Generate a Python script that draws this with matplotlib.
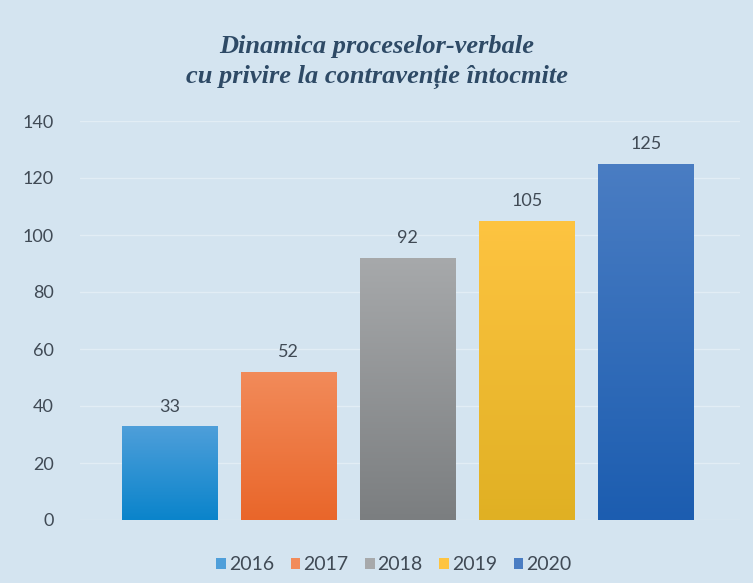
import numpy as np
import matplotlib.pyplot as plt
from matplotlib.colors import LinearSegmentedColormap
from matplotlib.patches import Patch

years = ['2016', '2017', '2018', '2019', '2020']
values = [33, 52, 92, 105, 125]
top_colors = ['#4f9fda', '#f28b5a', '#a7a9ab', '#fec441', '#4a7dc3']
bottom_colors = ['#0a84cb', '#e9662a', '#7b7e80', '#e0b023', '#1c5db0']

bg = '#d4e4f0'
text_col = '#404a55'

plt.rcParams['font.family'] = ['Lato', 'DejaVu Sans']

fig = plt.figure(figsize=(7.53, 5.83), dpi=100, facecolor=bg)
ax = fig.add_axes([80 / 753, 63 / 583, 660 / 753, 399 / 583])
ax.set_facecolor(bg)

x = np.arange(len(years))
bars = ax.bar(x, values, width=0.8, color='none', zorder=2)

ax.set_ylim(0, 140)
ax.set_xlim(-0.75, 4.79)

# gradient fill for each bar, clipped to the bar rectangle
grad = np.linspace(0, 1, 256).reshape(-1, 1)
for bar, c1, c2 in zip(bars, top_colors, bottom_colors):
    cmap = LinearSegmentedColormap.from_list('g', [c2, c1])
    x0, y0 = bar.get_x(), bar.get_y()
    w, h = bar.get_width(), bar.get_height()
    im = ax.imshow(grad, cmap=cmap, aspect='auto', origin='lower',
                   extent=[x0, x0 + w, y0, y0 + h], zorder=2)
    im.set_clip_path(bar)

for xi, v in zip(x, values):
    ax.text(xi, v + 4, str(v), ha='center', va='bottom', fontsize=13, color=text_col)

ax.set_yticks(range(0, 141, 20))
ax.yaxis.grid(True, color='#e2edf5', linewidth=1.0, zorder=0)
ax.set_axisbelow(True)
ax.set_xticks([])
ax.tick_params(axis='y', length=0, labelsize=13, labelcolor=text_col, pad=19)
for s in ax.spines.values():
    s.set_visible(False)
ax.set_ylim(0, 140)
ax.set_xlim(-0.75, 4.79)

fig.text(0.5, 1 - 62 / 583, 'Dinamica proceselor-verbale\ncu privire la contravenție întocmite',
         ha='center', va='center', fontsize=19, fontweight='bold', fontstyle='italic',
         family=['Liberation Serif', 'DejaVu Serif'], color='#2e4a66', linespacing=1.35)

handles = [Patch(facecolor=c, edgecolor='none') for c in top_colors]
fig.legend(handles, years, loc='center', bbox_to_anchor=(394 / 753, 1 - 565 / 583),
           ncol=5, frameon=False, fontsize=14, labelcolor=text_col,
           handlelength=0.5, handleheight=0.5, handletextpad=0.15, columnspacing=0.85)

fig.savefig('out.png', dpi=100, facecolor=bg)
